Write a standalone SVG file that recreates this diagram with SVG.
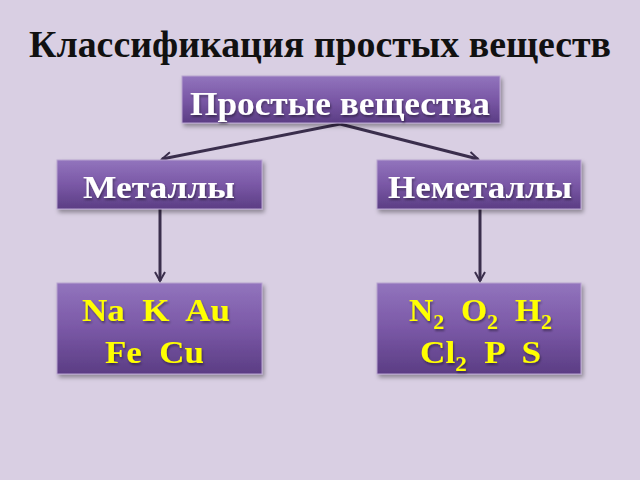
<svg xmlns="http://www.w3.org/2000/svg" width="640" height="480" viewBox="0 0 640 480">
<defs>
<linearGradient id="g" x1="0" y1="0" x2="0" y2="1">
<stop offset="0" stop-color="#9274bd"/>
<stop offset="0.5" stop-color="#7a58a6"/>
<stop offset="1" stop-color="#5b3d84"/>
</linearGradient>
<filter id="sh" x="-10%" y="-10%" width="125%" height="135%">
<feDropShadow dx="2" dy="3" stdDeviation="2" flood-color="#000" flood-opacity="0.35"/>
</filter>
<filter id="ts" x="-5%" y="-10%" width="115%" height="130%">
<feDropShadow dx="1" dy="2" stdDeviation="1" flood-color="#000" flood-opacity="0.4"/>
</filter>
<marker id="arr" viewBox="0 0 12 12" refX="10" refY="6" markerWidth="12" markerHeight="12" markerUnits="userSpaceOnUse" orient="auto">
<path d="M1,1 L10,6 L1,11" fill="none" stroke="#3a2e4c" stroke-width="2"/>
</marker>
<style>
.box{fill:url(#g);stroke:#b8a4d0;stroke-width:1;filter:url(#sh)}
.w{font-family:"Liberation Serif",serif;font-weight:bold;fill:#fff;filter:url(#ts)}
.y{font-family:"Liberation Serif",serif;font-weight:bold;fill:#ffff00;font-size:32px;filter:url(#ts)}
.c{stroke:#3a2e4c;stroke-width:3;fill:none;marker-end:url(#arr)}
</style>
</defs>
<rect width="640" height="480" fill="#d9cfe3"/>
<text x="29" y="57" font-family="Liberation Serif,serif" font-weight="bold" font-size="37" fill="#111" textLength="582" lengthAdjust="spacingAndGlyphs">Классификация простых веществ</text>
<g id="connectors">
<path class="c" d="M340,124 L162,159"/>
<path class="c" d="M340,124 L478,159"/>
<path class="c" d="M160,209 L160,281"/>
<path class="c" d="M480,209 L480,281"/>
</g>
<g id="simple">
<rect class="box" x="182" y="76" width="318" height="47"/>
<text class="w" x="190" y="115" font-size="33" textLength="300" lengthAdjust="spacingAndGlyphs">Простые вещества</text>
</g>
<g id="metals">
<rect class="box" x="57" y="160" width="205" height="49"/>
<text class="w" x="83" y="198" font-size="31" textLength="152" lengthAdjust="spacingAndGlyphs">Металлы</text>
</g>
<g id="nonmetals">
<rect class="box" x="377" y="160" width="204" height="49"/>
<text class="w" x="388" y="198" font-size="31" textLength="184" lengthAdjust="spacingAndGlyphs">Неметаллы</text>
</g>
<g id="metals-list">
<rect class="box" x="57" y="283" width="205" height="91"/>
<text class="y" x="82" y="321" xml:space="preserve" textLength="148" lengthAdjust="spacingAndGlyphs">Na  K  Au</text>
<text class="y" x="105" y="363" xml:space="preserve" textLength="99" lengthAdjust="spacingAndGlyphs">Fe  Cu</text>
</g>
<g id="nonmetals-list">
<rect class="box" x="377" y="283" width="204" height="91"/>
<text class="y" x="409" y="321" xml:space="preserve" textLength="143" lengthAdjust="spacingAndGlyphs">N<tspan font-size="21" dy="8">2</tspan><tspan dy="-8">  O</tspan><tspan font-size="21" dy="8">2</tspan><tspan dy="-8">  H</tspan><tspan font-size="21" dy="8">2</tspan></text>
<text class="y" x="420" y="363" xml:space="preserve" textLength="121" lengthAdjust="spacingAndGlyphs">Cl<tspan font-size="21" dy="8">2</tspan><tspan dy="-8">  P  S</tspan></text>
</g>
</svg>
